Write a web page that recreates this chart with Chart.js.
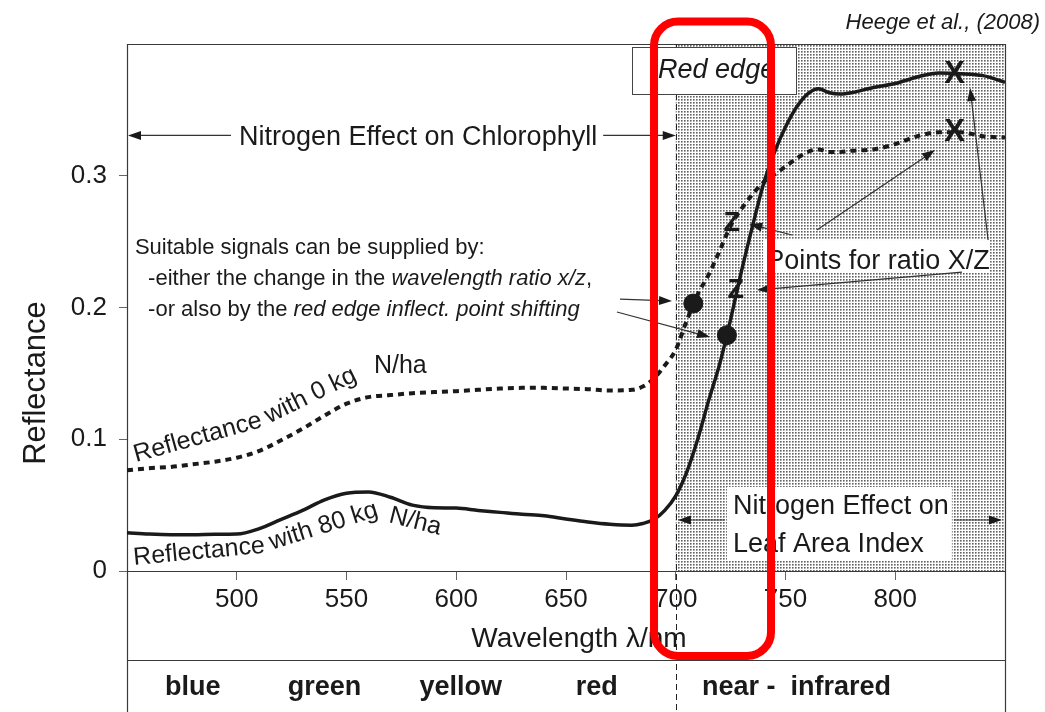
<!DOCTYPE html>
<html>
<head>
<meta charset="utf-8">
<script src="https://cdn.jsdelivr.net/npm/chart.js@4.4.1/dist/chart.umd.min.js"></script>
<style>
  html, body { margin: 0; padding: 0; background: #fff; }
  canvas { display: block; }
</style>
</head>
<body>
<canvas id="spectrum" width="1045" height="712"></canvas>
<script>
// wavelength grid (nm) and the two reflectance curves
const wavelengths = [450, 460, 470, 480, 490, 500, 510, 520, 530, 540, 550, 560, 570, 580, 590, 600,
  610, 620, 630, 640, 650, 660, 670, 680, 685, 690, 695, 700, 705, 710, 715, 720, 725, 730, 735,
  740, 745, 750, 755, 760, 765, 770, 775, 780, 790, 800, 810, 820, 830, 840, 850];
const refl80 = [0.029, 0.028, 0.0275, 0.0275, 0.0278, 0.028, 0.032, 0.039, 0.046, 0.054, 0.059, 0.060,
  0.056, 0.050, 0.048, 0.0478, 0.046, 0.0445, 0.043, 0.042, 0.0395, 0.0372, 0.0355, 0.0348, 0.036,
  0.039, 0.046, 0.057, 0.075, 0.100, 0.1295, 0.157, 0.191, 0.228, 0.262, 0.294, 0.318, 0.337, 0.352,
  0.362, 0.366, 0.363, 0.362, 0.363, 0.367, 0.370, 0.375, 0.378, 0.3775, 0.376, 0.371];
const refl0 = [0.0765, 0.078, 0.079, 0.081, 0.083, 0.086, 0.091, 0.099, 0.108, 0.118, 0.127, 0.132,
  0.1335, 0.135, 0.1358, 0.1365, 0.1375, 0.1385, 0.139, 0.139, 0.1385, 0.138, 0.137, 0.1375, 0.140,
  0.146, 0.156, 0.168, 0.190, 0.210, 0.225, 0.243, 0.262, 0.275, 0.286, 0.295, 0.301, 0.307, 0.313,
  0.318, 0.320, 0.318, 0.318, 0.319, 0.320, 0.324, 0.330, 0.333, 0.333, 0.330, 0.329];

const xTicks = [500, 550, 600, 650, 700, 750, 800];
const yTickValues = [0, 0.1, 0.2, 0.3];
const yTickLabels = ['0', '0.1', '0.2', '0.3'];

const bandNames = ['blue', 'green', 'yellow', 'red', 'near -  infrared'];
const bandCenters = [480, 540, 602, 664, 755];

// red edge inflection points (filled dots)
const inflectNm = [708, 723.3];
const inflectRefl = [0.203, 0.179];

// X / Z ratio points
const markerLetters = ['X', 'X', 'Z', 'Z'];
const markerNm = [827, 827, 725.5, 727.3];
const markerRefl = [0.377, 0.333, 0.264, 0.213];

const FONT = '"Liberation Sans", Arial, Helvetica, sans-serif';
const INK = '#1a1a1a';

function pts(xs, ys) { return xs.map((v, i) => ({ x: v, y: ys[i] })); }

function stipple(ctx) {
  const c = document.createElement('canvas');
  c.width = 3; c.height = 3;
  const g = c.getContext('2d');
  g.fillStyle = '#fff'; g.fillRect(0, 0, 3, 3);
  g.fillStyle = '#626262'; g.fillRect(0, 0, 1, 1);
  g.fillStyle = '#9c9c9c'; g.fillRect(1, 0, 1, 1); g.fillRect(0, 1, 1, 1);
  g.fillStyle = '#c8c8c8'; g.fillRect(1, 1, 1, 1);
  return ctx.createPattern(c, 'repeat');
}

function arrow(ctx, x1, y1, x2, y2) {
  const head = 13, half = 4.5;
  const a = Math.atan2(y2 - y1, x2 - x1), c = Math.cos(a), s = Math.sin(a);
  ctx.beginPath();
  ctx.moveTo(x1, y1);
  ctx.lineTo(x2 - c * head * 0.8, y2 - s * head * 0.8);
  ctx.stroke();
  ctx.beginPath();
  ctx.moveTo(x2, y2);
  ctx.lineTo(x2 - c * head + s * half, y2 - s * head - c * half);
  ctx.lineTo(x2 - c * head - s * half, y2 - s * head + c * half);
  ctx.closePath();
  ctx.fill();
}

// draw a line of text made of normal / italic pieces
function richText(ctx, parts, x, y, size) {
  let cx = x;
  for (const p of parts) {
    ctx.font = (p[1] ? 'italic ' : '') + size + 'px ' + FONT;
    ctx.fillText(p[0], cx, y);
    cx += ctx.measureText(p[0]).width;
  }
}

// place characters one by one along a polyline
function textOnPath(ctx, text, P) {
  const seg = [];
  let total = 0;
  for (let i = 1; i < P.length; i++) {
    const dx = P[i][0] - P[i - 1][0], dy = P[i][1] - P[i - 1][1];
    const L = Math.hypot(dx, dy);
    seg.push({ x: P[i - 1][0], y: P[i - 1][1], dx, dy, L, s: total });
    total += L;
  }
  let s = 0;
  ctx.textAlign = 'center';
  ctx.textBaseline = 'alphabetic';
  for (const ch of text) {
    const w = ctx.measureText(ch).width;
    const m = s + w / 2;
    let k = seg.findIndex(g => m <= g.s + g.L);
    if (k < 0) k = seg.length - 1;
    const g = seg[k], t = (m - g.s) / g.L;
    ctx.save();
    ctx.translate(g.x + g.dx * t, g.y + g.dy * t);
    ctx.rotate(Math.atan2(g.dy, g.dx));
    ctx.fillText(ch, 0, 0);
    ctx.restore();
    s += w;
  }
}

const decor = {
  id: 'decor',
  beforeDatasetsDraw(chart) {
    const { ctx, chartArea: a, scales: { x, y } } = chart;
    const X = v => x.getPixelForValue(v), Y = v => y.getPixelForValue(v);
    const H = chart.height;
    ctx.save();
    // near infrared stipple
    ctx.fillStyle = stipple(ctx);
    ctx.fillRect(X(700), a.top, a.right - X(700), a.bottom - a.top);

    // frame and band separator
    ctx.strokeStyle = '#3a3a3a';
    ctx.lineWidth = 1.2;
    ctx.beginPath();
    ctx.moveTo(a.left + 0.5, H); ctx.lineTo(a.left + 0.5, a.top + 0.5);
    ctx.lineTo(a.right + 0.5, a.top + 0.5); ctx.lineTo(a.right + 0.5, H);
    ctx.moveTo(a.left, a.bottom + 0.5); ctx.lineTo(a.right, a.bottom + 0.5);
    ctx.moveTo(a.left, 660.5); ctx.lineTo(a.right, 660.5);
    ctx.stroke();

    // dashed boundary at 700 nm
    const xe = Math.round(X(700)) + 0.5;
    ctx.setLineDash([6, 4]);
    ctx.lineWidth = 1;
    ctx.strokeStyle = '#222';
    ctx.beginPath(); ctx.moveTo(xe, a.top); ctx.lineTo(xe, H); ctx.stroke();
    ctx.setLineDash([]);

    // "Red edge" box
    const bx1 = X(680.1), bx2 = X(754.8), by1 = Y(0.3977), by2 = Y(0.362);
    ctx.fillStyle = '#fff';
    ctx.fillRect(bx1, by1, bx2 - bx1, by2 - by1);
    ctx.strokeStyle = '#444';
    ctx.strokeRect(Math.round(bx1) + 0.5, Math.round(by1) + 0.5, Math.round(bx2 - bx1), Math.round(by2 - by1));
    ctx.fillStyle = INK;
    ctx.font = 'italic 27px ' + FONT;
    ctx.textAlign = 'left';
    ctx.textBaseline = 'alphabetic';
    ctx.fillText('Red edge', bx1 + 26, by1 + 31);

    // white boxes behind annotation texts in the stippled area
    ctx.fillStyle = '#fff';
    ctx.fillRect(X(739.8), Y(0.2512), X(843.2) - X(739.8), Y(0.2262) - Y(0.2512));
    ctx.fillRect(X(723.3), Y(0.0638), X(825.8) - X(723.3), Y(0.0076) - Y(0.0638));
    ctx.restore();
  },
  afterDatasetsDraw(chart) {
    const { ctx, chartArea: a, scales: { x, y } } = chart;
    const X = v => x.getPixelForValue(v), Y = v => y.getPixelForValue(v);
    ctx.save();
    ctx.fillStyle = INK;
    ctx.strokeStyle = '#333';
    ctx.lineWidth = 1.2;

    // X / Z letters
    ctx.textAlign = 'center';
    ctx.textBaseline = 'middle';
    markerLetters.forEach((L, i) => {
      ctx.font = 'bold ' + (L === 'X' ? 31 : 27) + 'px ' + FONT;
      ctx.fillText(L, X(markerNm[i]), Y(markerRefl[i]));
    });

    // Nitrogen Effect on Chlorophyll
    ctx.font = '27px ' + FONT;
    ctx.textBaseline = 'alphabetic';
    const cy = Y(0.3306);
    const cx = X(582.6);
    const cw = ctx.measureText('Nitrogen Effect on Chlorophyll').width;
    ctx.fillText('Nitrogen Effect on Chlorophyll', cx, cy + 10);
    arrow(ctx, cx - cw / 2 - 8, cy, a.left + 1, cy);
    arrow(ctx, cx + cw / 2 + 6, cy, X(700), cy);

    // Suitable signals text block
    ctx.textAlign = 'left';
    const sx = X(453.6), sx2 = X(459.6);
    richText(ctx, [['Suitable signals can be supplied by:', false]], sx, Y(0.2467) + 8, 22);
    richText(ctx, [['-either the change in the ', false], ['wavelength ratio x/z', true], [',', false]], sx2, Y(0.2231) + 8, 22);
    richText(ctx, [['-or also by the ', false], ['red edge inflect. point shifting', true]], sx2, Y(0.1996) + 8, 22);
    arrow(ctx, X(674.6), Y(0.2064), X(698.3), Y(0.2049));
    arrow(ctx, X(673.2), Y(0.1966), X(715.6), Y(0.1776));

    // Points for ratio X/Z
    ctx.font = '27px ' + FONT;
    ctx.fillText('Points for ratio X/Z', X(741.2), Y(0.2368) + 10);
    arrow(ctx, X(753), Y(0.255), X(733.5), Y(0.2634));
    arrow(ctx, X(830.4), Y(0.2269), X(737), Y(0.2133));
    arrow(ctx, X(764.3), Y(0.2588), X(818.1), Y(0.3195));
    arrow(ctx, X(842.3), Y(0.2512), X(834.1), Y(0.3666));

    // Nitrogen Effect on Leaf Area Index
    ctx.fillText('Nitrogen Effect on', X(726.1), Y(0.0509) + 10);
    ctx.fillText('Leaf Area Index', X(726.1), Y(0.0220) + 10);
    const ly = Y(0.0387);
    arrow(ctx, X(723.3) - 2, ly, X(701), ly);
    arrow(ctx, X(825.8) + 2, ly, X(848.6), ly);

    // curve labels
    ctx.font = '25px ' + FONT;
    textOnPath(ctx, 'Reflectance with 0 kg', [[X(454.1), Y(0.0827)], [X(511.5), Y(0.1093)], [X(556.5), Y(0.146)]]);
    ctx.textAlign = 'left';
    ctx.fillText('N/ha', X(562.5), Y(0.1503));
    textOnPath(ctx, 'Reflectance with 80 kg', [[X(453.2), Y(0.0046)], [X(511.5), Y(0.0137)], [X(561.6), Y(0.0402)]]);
    ctx.save();
    ctx.translate(X(568.9), Y(0.0372));
    ctx.rotate(14 * Math.PI / 180);
    ctx.textAlign = 'left';
    ctx.fillText('N/ha', 0, 0);
    ctx.restore();

    // axis titles and band names
    ctx.textAlign = 'center';
    ctx.textBaseline = 'alphabetic';
    ctx.font = '28px ' + FONT;
    ctx.fillText('Wavelength \u03bb/nm', X(655.9), 647);
    ctx.save();
    ctx.translate(45, 383);
    ctx.rotate(-Math.PI / 2);
    ctx.font = '31px ' + FONT;
    ctx.fillText('Reflectance', 0, 0);
    ctx.restore();
    ctx.font = 'bold 27px ' + FONT;
    bandNames.forEach((b, i) => ctx.fillText(b, X(bandCenters[i]), 695));

    ctx.font = 'italic 22px ' + FONT;
    ctx.textAlign = 'right';
    ctx.fillText('Heege et al., (2008)', 1040, 29);

    // red highlight around the red edge
    const rx1 = X(690.1), rx2 = X(743.4), ry1 = Y(0.417), ry2 = Y(-0.0645), r = 24;
    ctx.strokeStyle = '#ff0000';
    ctx.lineWidth = 8;
    ctx.beginPath();
    ctx.moveTo(rx1 + r, ry1);
    ctx.arcTo(rx2, ry1, rx2, ry2, r);
    ctx.arcTo(rx2, ry2, rx1, ry2, r);
    ctx.arcTo(rx1, ry2, rx1, ry1, r);
    ctx.arcTo(rx1, ry1, rx2, ry1, r);
    ctx.closePath();
    ctx.stroke();
    ctx.restore();
  }
};

new Chart(document.getElementById('spectrum'), {
  type: 'line',
  data: {
    datasets: [
      {
        label: 'Reflectance with 80 kg N/ha',
        data: pts(wavelengths, refl80),
        borderColor: INK,
        borderWidth: 3.5,
        pointRadius: 0,
        fill: false,
        cubicInterpolationMode: 'monotone',
        order: 2
      }, {
        label: 'Reflectance with 0 kg N/ha',
        data: pts(wavelengths, refl0),
        borderColor: INK,
        borderWidth: 4,
        borderDash: [6, 5],
        pointRadius: 0,
        fill: false,
        cubicInterpolationMode: 'monotone',
        order: 3
      }, {
        type: 'scatter',
        label: 'red edge inflection',
        data: pts(inflectNm, inflectRefl),
        pointRadius: 9.5,
        backgroundColor: INK,
        borderColor: INK,
        showLine: false,
        order: 0
      }
    ]
  },
  options: {
    responsive: false,
    animation: false,
    layout: { padding: { top: 44, right: 40, left: 0, bottom: 0 } },
    plugins: { legend: { display: false }, tooltip: { enabled: false }, title: { display: false } },
    scales: {
      x: {
        type: 'linear',
        min: 450,
        max: 850,
        afterFit: s => { s.height = 141; },
        afterBuildTicks: s => { s.ticks = xTicks.map(v => ({ value: v })); },
        grid: { drawOnChartArea: false, tickLength: 9, color: '#666' },
        border: { display: false },
        ticks: { font: { family: FONT, size: 26 }, color: INK, padding: 4, maxRotation: 0, autoSkip: false }
      },
      y: {
        type: 'linear',
        min: 0,
        max: 0.4,
        afterFit: s => { s.width = 127; },
        afterBuildTicks: s => { s.ticks = yTickValues.map(v => ({ value: v })); },
        grid: { drawOnChartArea: false, tickLength: 8, color: '#666' },
        border: { display: false },
        ticks: { font: { family: FONT, size: 26 }, color: INK, padding: 12, callback: (v, i) => yTickLabels[i] }
      }
    }
  },
  plugins: [decor]
});
</script>
</body>
</html>
